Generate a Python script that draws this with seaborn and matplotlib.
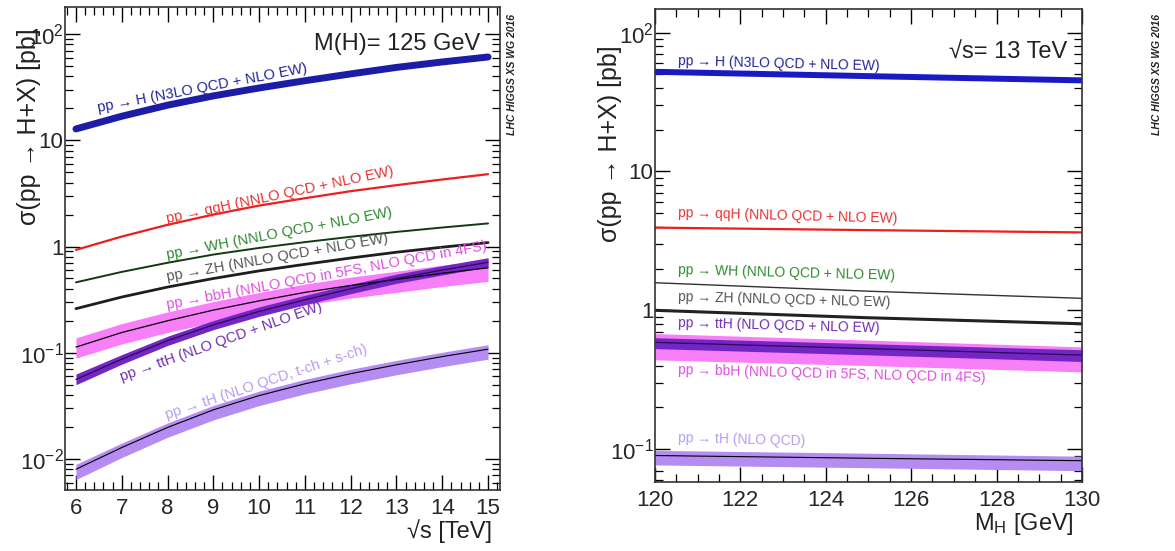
import numpy as np
import pandas as pd
import matplotlib
matplotlib.use("Agg")
import matplotlib.pyplot as plt
import matplotlib.ticker as mticker
import seaborn as sns

# ---------------- data: left panel (vs sqrt(s)) ----------------
sqrt_s = [6, 7, 8, 9, 10, 11, 12, 13, 14, 15]
ggH_s = [12.8, 16.85, 21.42, 26.2, 31.1, 36.4, 42.2, 48.58, 54.67, 60.9]
qqH_s = [0.93, 1.241, 1.601, 2.0, 2.43, 2.85, 3.32, 3.782, 4.278, 4.8]
WH_s = [0.46, 0.577, 0.703, 0.84, 0.97, 1.1, 1.235, 1.373, 1.51, 1.65]
ZH_s = [0.26, 0.3345, 0.4153, 0.50, 0.59, 0.68, 0.78, 0.884, 0.986, 1.09]
bbH_s = [0.113, 0.155, 0.200, 0.252, 0.308, 0.37, 0.43, 0.49, 0.56, 0.63]
bbH_s_lo = [0.089, 0.121, 0.155, 0.194, 0.236, 0.282, 0.327, 0.37, 0.42, 0.47]
bbH_s_hi = [0.138, 0.188, 0.242, 0.303, 0.37, 0.443, 0.515, 0.585, 0.668, 0.75]
ttH_s = [0.056, 0.087, 0.13, 0.183, 0.245, 0.315, 0.40, 0.50, 0.60, 0.71]
ttH_s_lo = [0.050, 0.078, 0.117, 0.165, 0.22, 0.283, 0.36, 0.45, 0.54, 0.645]
ttH_s_hi = [0.063, 0.096, 0.143, 0.201, 0.27, 0.347, 0.44, 0.55, 0.66, 0.785]
tH_s = [0.0080, 0.0128, 0.0198, 0.0290, 0.0395, 0.0510, 0.0635, 0.0770, 0.0920, 0.108]
tH_s_lo = [0.0064, 0.0103, 0.0160, 0.0233, 0.0318, 0.0410, 0.0510, 0.0620, 0.0740, 0.0870]
tH_s_hi = [0.0089, 0.0141, 0.0218, 0.0319, 0.0435, 0.0561, 0.0699, 0.0847, 0.1010, 0.119]

# ---------------- data: right panel (vs M_H at 13 TeV) ----------------
mH = [120, 125, 130]
ggH_m = [52.2, 48.6, 45.3]
qqH_m = [3.94, 3.78, 3.64]
WH_m = [1.58, 1.373, 1.22]
ZH_m = [1.0, 0.884, 0.80]
bbH_m_lo = [0.44, 0.40, 0.36]
bbH_m_hi = [0.68, 0.61, 0.545]
ttH_m = [0.588, 0.53, 0.476]
ttH_m_lo = [0.53, 0.478, 0.428]
ttH_m_hi = [0.635, 0.575, 0.52]
tH_m = [0.090, 0.086, 0.0826]
tH_m_lo = [0.077, 0.0735, 0.070]
tH_m_hi = [0.098, 0.0935, 0.089]

left_labels = ["pp → H (N3LO QCD + NLO EW)", "pp → qqH (NNLO QCD + NLO EW)",
               "pp → WH (NNLO QCD + NLO EW)", "pp → ZH (NNLO QCD + NLO EW)",
               "pp → bbH (NNLO QCD in 5FS, NLO QCD in 4FS)",
               "pp → ttH (NLO QCD + NLO EW)", "pp → tH (NLO QCD, t-ch + s-ch)"]
right_labels = ["pp → H (N3LO QCD + NLO EW)", "pp → qqH (NNLO QCD + NLO EW)",
                "pp → WH (NNLO QCD + NLO EW)", "pp → ZH (NNLO QCD + NLO EW)",
                "pp → ttH (NLO QCD + NLO EW)",
                "pp → bbH (NNLO QCD in 5FS, NLO QCD in 4FS)", "pp → tH (NLO QCD)"]
ytick_vals = [1e-2, 1e-1, 1, 10, 100]
ytick_labels = [r"$10^{-2}$", r"$10^{-1}$", "1", "10", r"$10^{2}$"]

sns.set_theme(style="ticks")
plt.rcParams["font.family"] = ["Liberation Sans", "DejaVu Sans"]
plt.rcParams["mathtext.fontset"] = "custom"
plt.rcParams["mathtext.rm"] = "Liberation Sans"
plt.rcParams["mathtext.it"] = "Liberation Sans:italic"
plt.rcParams["mathtext.default"] = "regular"

C_GGH = "#1c1ca6"
C_VBF = "#ee1e1e"
C_WH = "#123a12"
C_ZH = "#1e1e1e"
C_BBH = "#f77ff7"
C_TTH = "#7426c4"
C_TH = "#b48cf2"
L_GGH, L_VBF, L_WH, L_ZH, L_BBH, L_TTH, L_TH = ("#23239a", "#e83232", "#2e8b2e", "#555555",
                                               "#de4fde", "#6e2db2", "#b79cf0")

fig = plt.figure(figsize=(11.75, 5.51), dpi=100)
axL = fig.add_axes([0.0553, 0.1107, 0.3702, 0.8766])
axR = fig.add_axes([0.5574, 0.1252, 0.3634, 0.8585])


def style_axis(ax):
    ax.set_yscale("log")
    ax.yaxis.set_major_locator(mticker.FixedLocator(ytick_vals))
    ax.yaxis.set_major_formatter(mticker.FixedFormatter(ytick_labels))
    ax.yaxis.set_minor_locator(mticker.LogLocator(base=10, subs=np.arange(2, 10)))
    ax.yaxis.set_minor_formatter(mticker.NullFormatter())
    ax.tick_params(which="both", direction="in", top=True, right=True, color="black")
    ax.tick_params(which="major", length=11, width=1.0, labelsize=16)
    ax.tick_params(which="minor", length=5.5, width=0.9)
    ax.tick_params(axis="y", which="major", pad=1)
    ax.tick_params(axis="x", which="major", pad=6)
    for sp in ax.spines.values():
        sp.set_color("#333333")
        sp.set_linewidth(1.2)
    ax.grid(False)


# ---------------- left panel ----------------
axL.fill_between(sqrt_s, bbH_s_lo, bbH_s_hi, color=C_BBH, lw=0)
axL.fill_between(sqrt_s, ttH_s_lo, ttH_s_hi, color=C_TTH, lw=0)
axL.fill_between(sqrt_s, tH_s_lo, tH_s_hi, color=C_TH, lw=0)
sns.lineplot(x=sqrt_s, y=ggH_s, ax=axL, color=C_GGH, lw=5)
sns.lineplot(x=sqrt_s, y=qqH_s, ax=axL, color=C_VBF, lw=1.6)
sns.lineplot(x=sqrt_s, y=WH_s, ax=axL, color=C_WH, lw=1.4)
sns.lineplot(x=sqrt_s, y=ZH_s, ax=axL, color=C_ZH, lw=2.0)
sns.lineplot(x=sqrt_s, y=bbH_s, ax=axL, color="black", lw=0.9)
sns.lineplot(x=sqrt_s, y=ttH_s, ax=axL, color="#2a0a55", lw=0.9)
sns.lineplot(x=sqrt_s, y=tH_s, ax=axL, color="black", lw=0.8)

axL.set_xlim(5.76, 15.26)
axL.set_ylim(0.0051, 180)
style_axis(axL)
axL.xaxis.set_major_locator(mticker.MultipleLocator(1))
axL.xaxis.set_minor_locator(mticker.MultipleLocator(0.2))

lab_fs = 10.5
for txt, x, y, rot, col in [
    (left_labels[0], 6.48, 18.4, 10.8, L_GGH),
    (left_labels[1], 7.99, 1.68, 12.0, L_VBF),
    (left_labels[2], 7.99, 0.77, 10.8, L_WH),
    (left_labels[3], 7.99, 0.477, 10.0, L_ZH),
    (left_labels[4], 7.99, 0.26, 10.5, L_BBH),
    (left_labels[5], 7.0, 0.0545, 19.5, L_TTH),
    (left_labels[6], 7.99, 0.0238, 18.3, L_TH),
]:
    axL.text(x, y, txt, rotation=rot, rotation_mode="anchor", ha="left",
             va="baseline", color=col, fontsize=lab_fs)

axL.text(0.955, 0.91, "M(H)= 125 GeV", transform=axL.transAxes, ha="right",
         va="baseline", fontsize=17, color="#222222")
axL.set_xlabel("√s [TeV]", fontsize=17, loc="right", color="#222222")
axL.xaxis.set_label_coords(0.982, -0.06)
axL.set_ylabel("σ(pp → H+X) [pb]", fontsize=18, loc="top", color="#222222")
axL.yaxis.set_label_coords(-0.055, 0.955)

# ---------------- right panel ----------------
axR.fill_between(mH, bbH_m_lo, bbH_m_hi, color=C_BBH, lw=0)
axR.fill_between(mH, ttH_m_lo, ttH_m_hi, color=C_TTH, lw=0)
axR.fill_between(mH, tH_m_lo, tH_m_hi, color=C_TH, lw=0)
sns.lineplot(x=mH, y=ggH_m, ax=axR, color="#1a1ac4", lw=4.3)
sns.lineplot(x=mH, y=qqH_m, ax=axR, color=C_VBF, lw=1.6)
sns.lineplot(x=mH, y=WH_m, ax=axR, color="#333333", lw=1.0)
sns.lineplot(x=mH, y=ZH_m, ax=axR, color="#222222", lw=2.2)
sns.lineplot(x=mH, y=ttH_m, ax=axR, color="#2a0a55", lw=0.9)
sns.lineplot(x=mH, y=tH_m, ax=axR, color="black", lw=0.8)

axR.set_xlim(120, 130)
axR.set_ylim(0.058, 148)
style_axis(axR)
axR.xaxis.set_major_locator(mticker.MultipleLocator(2))
axR.xaxis.set_minor_locator(mticker.MultipleLocator(0.5))

for txt, y, col in [
    (right_labels[0], 58.9, L_GGH),
    (right_labels[1], 4.67, L_VBF),
    (right_labels[2], 1.82, L_WH),
    (right_labels[3], 1.16, L_ZH),
    (right_labels[4], 0.755, L_TTH),
    (right_labels[5], 0.347, L_BBH),
    (right_labels[6], 0.112, L_TH),
]:
    axR.text(120.54, y, txt, rotation=-1.5, rotation_mode="anchor", ha="left",
             va="baseline", color=col, fontsize=10)

axR.text(0.965, 0.895, "√s= 13 TeV", transform=axR.transAxes, ha="right",
         va="baseline", fontsize=17, color="#222222")
axR.set_xlabel(r"M$_{\mathregular{H}}$ [GeV]", fontsize=17, loc="right", color="#222222")
axR.xaxis.set_label_coords(0.98, -0.062)
axR.set_ylabel("σ(pp → H+X) [pb]", fontsize=18, loc="top", color="#222222")
axR.yaxis.set_label_coords(-0.077, 0.924)

for xf in (512 / 1175, 1157 / 1175):
    fig.text(xf, 1 - 75 / 551, "LHC HIGGS XS WG 2016", rotation=90, ha="center",
             va="center", fontsize=7.5, fontweight="bold", fontstyle="italic",
             color="#222222")

fig.savefig("out.png", dpi=100)
